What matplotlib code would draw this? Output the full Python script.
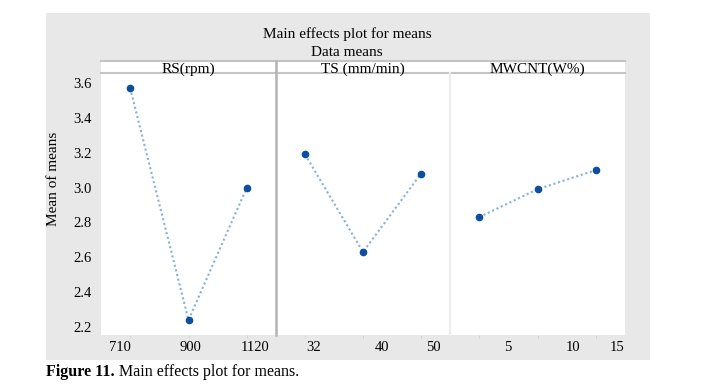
import matplotlib
matplotlib.use("Agg")
import matplotlib.pyplot as plt
from matplotlib.patches import Rectangle
from matplotlib.lines import Line2D

# figure size in pixels
W, H = 716, 389

# chart data
factors = ["RS(rpm)", "TS (mm/min)", "MWCNT(W%)"]
levels = [["710", "900", "1120"], ["32", "40", "50"], ["5", "10", "15"]]
means = [[3.57, 2.24, 3.00], [3.19, 2.63, 3.08], [2.83, 2.99, 3.10]]
y_ticks = [2.2, 2.4, 2.6, 2.8, 3.0, 3.2, 3.4, 3.6]

# the level labels are shifted from the points in the original
label_pos = [[-0.17, 1.03, 2.14], [0.15, 1.32, 2.21], [0.49, 1.61, 2.36]]

plt.rcParams["font.family"] = ["Liberation Serif", "DejaVu Serif"]


def fx(px):
    return px / W


def fy(py):
    return 1 - py / H


fig = plt.figure(figsize=(W / 100, H / 100), dpi=100)

# gray panel behind everything
fig.patches.append(Rectangle((fx(46), fy(360)), fx(604), (360 - 13) / H,
                             transform=fig.transFigure, facecolor="#e8e8e8",
                             edgecolor="none", zorder=-10))

# strip band on top of the panels
fig.patches.append(Rectangle((fx(101), fy(73)), fx(524), 12 / H,
                             transform=fig.transFigure, facecolor="white",
                             edgecolor="none", zorder=1))
for yy in (61, 73):
    fig.add_artist(Line2D([fx(101), fx(625)], [fy(yy), fy(yy)],
                          color="#c4c4c4", lw=1.5, zorder=2))

lefts = [101, 276, 450]
widths = [175, 174, 175]
top, bottom = 73, 335

for i in range(3):
    ax = fig.add_axes([fx(lefts[i]), fy(bottom), fx(widths[i]),
                       (bottom - top) / H])
    ax.set_zorder(0)
    ax.set_facecolor("white")
    ax.plot(range(3), means[i], linestyle=(0, (1, 1.3)), color="#86b0dc",
            lw=1.5, zorder=2)
    ax.plot(range(3), means[i], "o", ms=4.5, color="#0d4f9e", zorder=3)
    ax.set_xlim(-0.5, 2.5)
    ax.set_ylim(2.154, 3.657)
    for s in ax.spines.values():
        s.set_visible(False)

    ax.set_xticks(label_pos[i])
    ax.set_xticklabels(levels[i])
    ax.set_xticks([0, 1, 2], minor=True)
    ax.tick_params(axis="x", which="major", length=0, pad=4, labelsize=10.5)
    ax.tick_params(axis="x", which="minor", length=2, color="#d0d0d0")

    if i == 0:
        ax.set_yticks(y_ticks)
        ax.set_yticklabels([f"{v:.1f}" for v in y_ticks])
        ax.tick_params(axis="y", length=0, pad=6.5, labelsize=10.5)
    else:
        ax.set_yticks([])

    # strip title
    fig.text(fx(lefts[i] + widths[i] / 2), fy(69.5), factors[i],
             ha="center", va="center", fontsize=11, zorder=5)

# panel dividers
fig.add_artist(Line2D([fx(276), fx(276)], [fy(335), fy(61)],
                      color="#b3b3b3", lw=1.8, zorder=6))
fig.add_artist(Line2D([fx(450), fx(450)], [fy(335), fy(73)],
                      color="#ececec", lw=1.5, zorder=6))

# titles and labels
fig.text(fx(347), fy(34), "Main effects plot for means", ha="center",
         va="center", fontsize=11)
fig.text(fx(347), fy(52), "Data means", ha="center", va="center",
         fontsize=11)
fig.text(fx(53), fy(179), "Mean of means", rotation=90, ha="center",
         va="center", fontsize=11)

# caption
fig.text(fx(46), fy(372), "Figure 11.", ha="left", va="center",
         fontsize=11.5, fontweight="bold")
fig.text(fx(119), fy(372), "Main effects plot for means.", ha="left",
         va="center", fontsize=11.5)

fig.savefig("out.png", dpi=100)
